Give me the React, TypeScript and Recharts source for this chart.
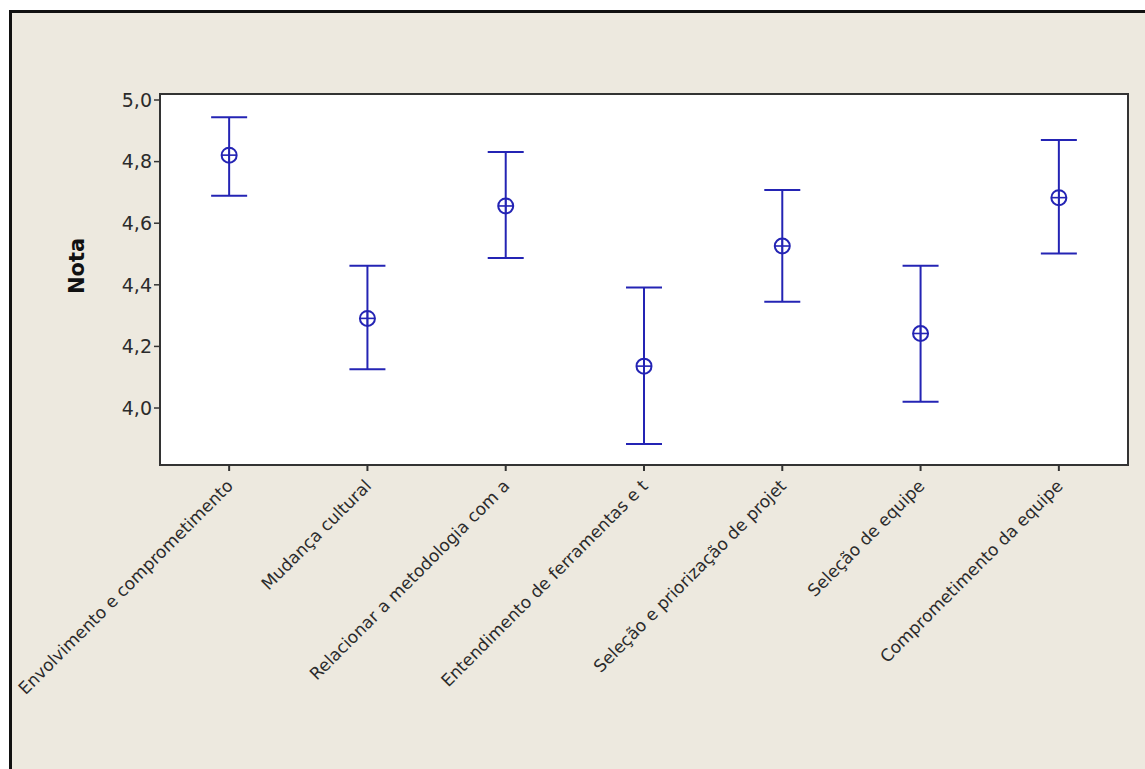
import React from "react";
import {
  ComposedChart,
  Line,
  XAxis,
  YAxis,
  ErrorBar,
  ReferenceArea,
} from "recharts";

// categories (labels as shown, truncated by the original software)
const categories = [
  "Envolvimento e comprometimento",
  "Mudança cultural",
  "Relacionar a metodologia com a",
  "Entendimento de ferramentas e t",
  "Seleção e priorização de projet",
  "Seleção de equipe",
  "Comprometimento da equipe",
];

// mean and 95% interval
const means = [4.821, 4.291, 4.656, 4.136, 4.526, 4.242, 4.683];
const lower = [4.689, 4.126, 4.487, 3.883, 4.345, 4.02, 4.502];
const upper = [4.944, 4.462, 4.831, 4.391, 4.708, 4.462, 4.87];

const yTicks = [4.0, 4.2, 4.4, 4.6, 4.8, 5.0];
const yDomain: [number, number] = [3.815, 5.0195];

const data = categories.map((name, i) => ({
  name,
  nota: means[i],
  ci: [means[i] - lower[i], upper[i] - means[i]],
}));

const BLUE = "#2424B4";
const TEXT = "#2b2b2b";
const FONT = "'DejaVu Sans', Verdana, sans-serif";

const MeanDot = (props: any) => {
  const { cx, cy } = props;
  if (cx == null || cy == null) return null;
  const r = 7.5;
  return (
    <g>
      <circle cx={cx} cy={cy} r={r} fill="none" stroke={BLUE} strokeWidth={2} />
      <line x1={cx - r} y1={cy} x2={cx + r} y2={cy} stroke={BLUE} strokeWidth={1.6} />
      <line x1={cx} y1={cy - r} x2={cx} y2={cy + r} stroke={BLUE} strokeWidth={1.6} />
    </g>
  );
};

const CategoryTick = (props: any) => {
  const { x, y, payload } = props;
  const ax = x + 5;
  const ay = y + 14;
  return (
    <text
      x={ax}
      y={ay}
      textAnchor="end"
      transform={`rotate(-45, ${ax}, ${ay})`}
      fill={TEXT}
      fontSize={17}
      fontFamily={FONT}
    >
      {payload.value}
    </text>
  );
};

const NotaLabel = () => {
  const x = 77;
  const y = 266;
  return (
    <text
      x={x}
      y={y}
      textAnchor="middle"
      dominantBaseline="central"
      transform={`rotate(-90, ${x}, ${y})`}
      fill="#111"
      fontSize={21}
      fontWeight="bold"
      fontFamily={FONT}
    >
      Nota
    </text>
  );
};

export default function App() {
  return (
    <div
      style={{
        position: "absolute",
        left: 0,
        top: 0,
        width: 1145,
        height: 769,
        background: "#fff",
        overflow: "hidden",
      }}
    >
      <div
        style={{
          position: "absolute",
          left: 9,
          top: 10,
          width: 1145,
          height: 769,
          background: "#EDE9DF",
          borderLeft: "3px solid #111",
          borderTop: "3px solid #111",
        }}
      />
      <div style={{ position: "absolute", left: 0, top: 0 }}>
        <ComposedChart
          width={1145}
          height={769}
          data={data}
          margin={{ top: 94, right: 17, bottom: 104, left: 100 }}
        >
          <ReferenceArea
            y1={yDomain[0]}
            y2={yDomain[1]}
            fill="#ffffff"
            fillOpacity={1}
            stroke="#333"
            strokeWidth={2}
            ifOverflow="visible"
          />
          <XAxis
            dataKey="name"
            type="category"
            scale="band"
            height={200}
            interval={0}
            axisLine={false}
            tickLine={{ stroke: "#333", strokeWidth: 2 }}
            tickSize={6}
            tick={<CategoryTick />}
          />
          <YAxis
            type="number"
            domain={yDomain}
            allowDataOverflow
            ticks={yTicks}
            width={60}
            axisLine={false}
            tickLine={{ stroke: "#333", strokeWidth: 1.5 }}
            tickSize={6}
            tickFormatter={(v: number) => v.toFixed(1).replace(".", ",")}
            tick={{ fill: TEXT, fontSize: 19, fontFamily: FONT }}
            label={<NotaLabel />}
          />
          <Line
            dataKey="nota"
            stroke="none"
            dot={<MeanDot />}
            activeDot={false}
            isAnimationActive={false}
          >
            <ErrorBar
              dataKey="ci"
              direction="y"
              width={18}
              stroke={BLUE}
              strokeWidth={2}
              isAnimationActive={false}
            />
          </Line>
        </ComposedChart>
      </div>
    </div>
  );
}
